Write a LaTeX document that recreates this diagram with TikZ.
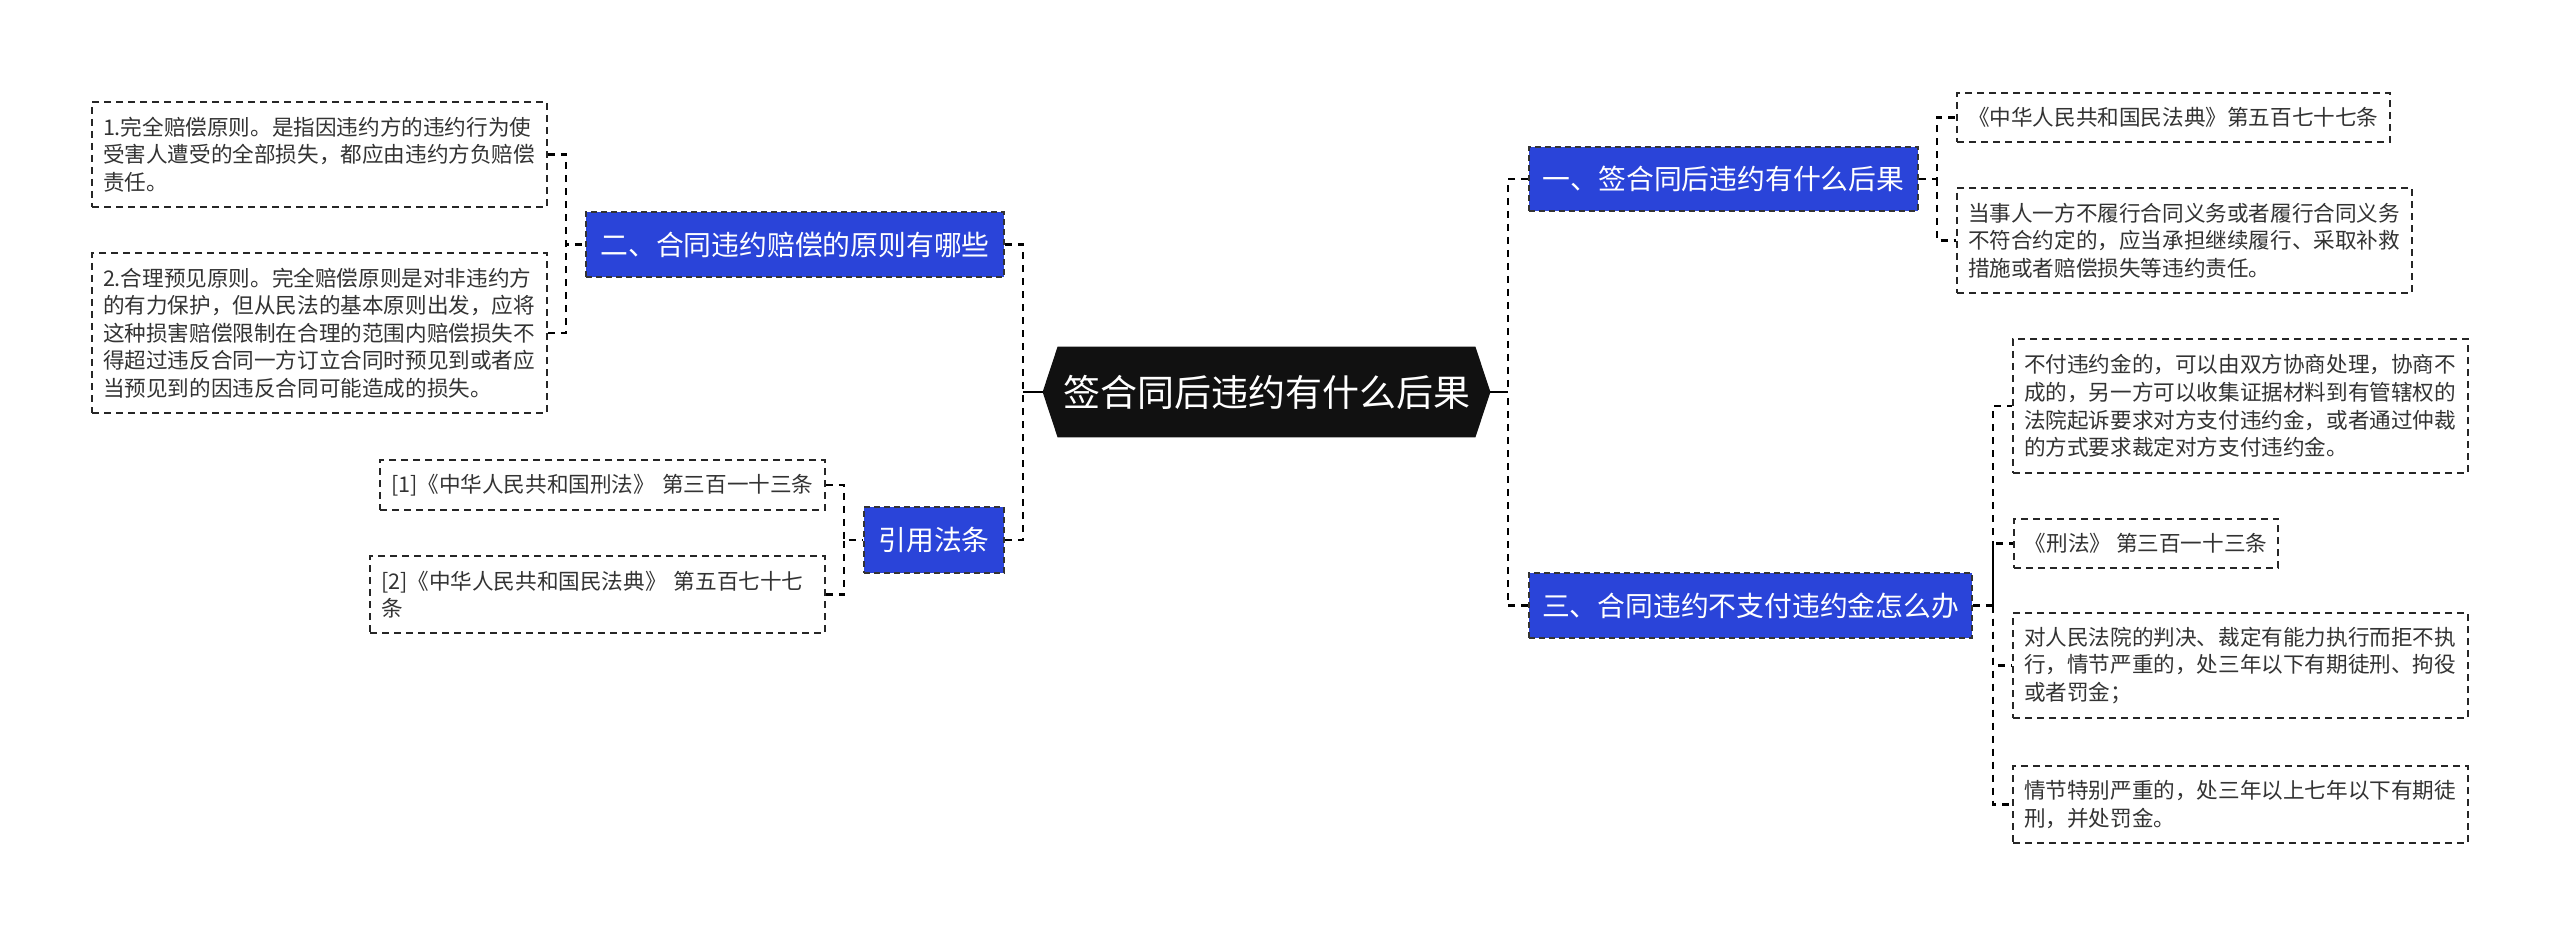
\documentclass[tikz,border=0pt]{standalone}
\usepackage{fontspec}
\setmainfont{Noto Sans CJK SC}
\usetikzlibrary{backgrounds}
\definecolor{bluebox}{HTML}{2A44D9}
\definecolor{txtgray}{HTML}{333333}
\definecolor{rootfill}{HTML}{111111}
\newcommand\leaffont{\fontsize{10.8}{13.8}\selectfont}
\newcommand\branchfont{\fontsize{13.9}{16}\selectfont}
\newcommand\rootfont{\fontsize{18.5}{21}\selectfont}
\tikzset{
  conn/.style={draw=black, line width=1.2pt, dash pattern=on 3.5pt off 3pt},
  rootline/.style={draw=black, line width=1.2pt},
  leaf/.style={draw=black!85, line width=0.8pt, dash pattern=on 3.5pt off 2.5pt,
    align=left, inner xsep=5.5pt, inner ysep=0pt, text=txtgray, font=\leaffont},
  branch/.style={fill=bluebox, draw=black!80, line width=0.8pt, dash pattern=on 3pt off 2pt,
    text=white, font=\branchfont, inner sep=0pt},
}
\begin{document}
\begin{tikzpicture}[x=0.5pt, y=-0.5pt]
\useasboundingbox (0,0) rectangle (2560,936);

% root
\node[inner sep=0pt, minimum width=223.5pt, minimum height=45pt, text=white, font=\rootfont]
  (root) at (1266.5,392) {签合同后违约有什么后果};

% branches
\node[branch, minimum width=209pt, minimum height=32.5pt] (B2) at (795,244.5) {二、合同违约赔偿的原则有哪些};
\node[branch, minimum width=70pt, minimum height=33pt] (B4) at (934,540) {引用法条};
\node[branch, minimum width=194.5pt, minimum height=32pt] (B1) at (1723.5,179) {一、签合同后违约有什么后果};
\node[branch, minimum width=221.5pt, minimum height=32.5pt] (B3) at (1750.5,605.5) {三、合同违约不支付违约金怎么办};

% left leaves
\node[leaf, text width=216.5pt, minimum height=52.5pt] (L1) at (319.5,154.5)
  {1.完全赔偿原则。是指因违约方的违约行为使\\受害人遭受的全部损失，都应由违约方负赔偿\\责任。};
\node[leaf, text width=216.5pt, minimum height=80pt] (L2) at (319.5,333)
  {2.合理预见原则。完全赔偿原则是对非违约方\\的有力保护，但从民法的基本原则出发，应将\\这种损害赔偿限制在合理的范围内赔偿损失不\\得超过违反合同一方订立合同时预见到或者应\\当预见到的因违反合同可能造成的损失。};
\node[leaf, text width=211.5pt, minimum height=25pt] (L3) at (602.5,485)
  {\mbox{[1]《中华人民共和国刑法》 第三百一十三条}};
\node[leaf, text width=216.5pt, minimum height=38.5pt] (L4) at (597.5,594.5)
  {[2]《中华人民共和国民法典》 第五百七十七\\条};

% right leaves
\node[leaf, text width=205.5pt, minimum height=24.5pt] (R1) at (2173.5,117.5)
  {\mbox{《中华人民共和国民法典》第五百七十七条}};
\node[leaf, text width=216.5pt, minimum height=52.5pt] (R2) at (2184.5,240.5)
  {当事人一方不履行合同义务或者履行合同义务\\不符合约定的，应当承担继续履行、采取补救\\措施或者赔偿损失等违约责任。};
\node[leaf, text width=216.5pt, minimum height=67pt] (R3) at (2240.5,406)
  {不付违约金的，可以由双方协商处理，协商不\\成的，另一方可以收集证据材料到有管辖权的\\法院起诉要求对方支付违约金，或者通过仲裁\\的方式要求裁定对方支付违约金。};
\node[leaf, minimum height=24.5pt, anchor=west] (R4) at (2013,543.5)
  {《刑法》 第三百一十三条};
\node[leaf, text width=216.5pt, minimum height=52.5pt] (R5) at (2240.5,665.5)
  {对人民法院的判决、裁定有能力执行而拒不执\\行，情节严重的，处三年以下有期徒刑、拘役\\或者罚金；};
\node[leaf, text width=216.5pt, minimum height=38.5pt] (R6) at (2240.5,804.5)
  {情节特别严重的，处三年以上七年以下有期徒\\刑，并处罚金。};

% junction coordinates
\coordinate (jL) at (1023,392);
\coordinate (jR) at (1508,392);
\coordinate (jB2) at (566,244.5);
\coordinate (jB4) at (844,540);
\coordinate (jB1) at (1937,179);
\coordinate (jB3) at (1993,605.5);

% root connectors
\draw[rootline] (root.west) -- (jL);
\draw[rootline] (root.east) -- (jR);
\draw[conn] (B2.east) -| (jL);
\draw[conn] (B4.east) -| (jL);
\draw[conn] (B1.west) -| (jR);
\draw[conn] (B3.west) -| (jR);

% branch children
\draw[conn] (L1.east) -| (jB2) -- (B2.west);
\draw[conn] (L2.east) -| (jB2);
\draw[conn] (L3.east) -| (jB4) -- (B4.west);
\draw[conn] (L4.east) -| (jB4);
\draw[conn] (B1.east) -- (jB1) |- (R1.west);
\draw[conn] (jB1) |- (R2.west);
\draw[conn] (B3.east) -- (jB3) |- (R3.west);
\draw[conn] (jB3) |- (R4.west);
\draw[conn] (jB3) |- (R5.west);
\draw[conn] (jB3) |- (R6.west);

\begin{scope}[on background layer]
  \fill[white] (0,0) rectangle (2560,936);
  \fill[rootfill] (root.west) -- ([xshift=7.5pt]root.north west) -- ([xshift=-7.5pt]root.north east)
    -- (root.east) -- ([xshift=-7.5pt]root.south east) -- ([xshift=7.5pt]root.south west) -- cycle;
\end{scope}
\end{tikzpicture}
\end{document}
